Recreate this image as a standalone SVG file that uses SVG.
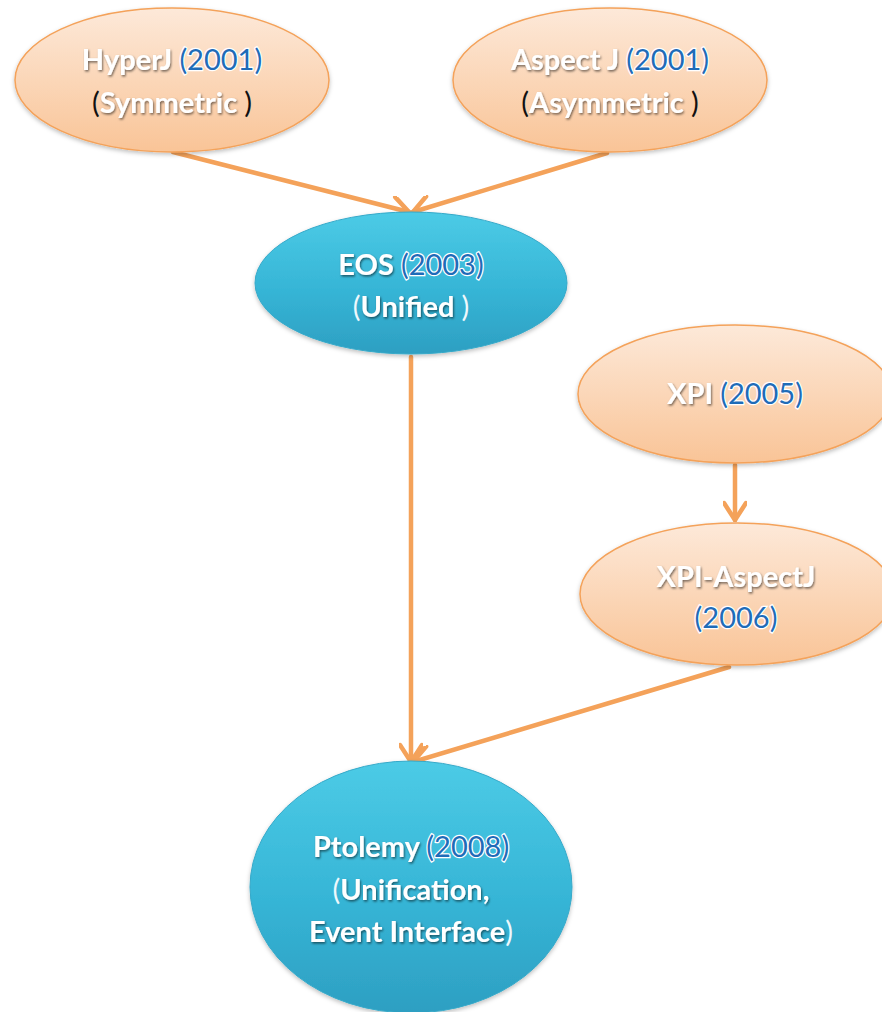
<svg xmlns="http://www.w3.org/2000/svg" width="882" height="1012" viewBox="0 0 882 1012">
<defs>
<linearGradient id="gOr" x1="0" y1="0" x2="0" y2="1">
<stop offset="0" stop-color="#fde9d9"/>
<stop offset="1" stop-color="#f9c497"/>
</linearGradient>
<linearGradient id="gBl" x1="0" y1="0" x2="0" y2="1">
<stop offset="0" stop-color="#4ccbe6"/>
<stop offset="0.55" stop-color="#36b5d6"/>
<stop offset="1" stop-color="#2d9fc2"/>
</linearGradient>
<filter id="sh" x="-10%" y="-20%" width="120%" height="140%">
<feDropShadow dx="1" dy="1.5" stdDeviation="1.2" flood-color="#000" flood-opacity="0.55"/>
</filter>
<filter id="nsh" x="-10%" y="-10%" width="120%" height="125%">
<feDropShadow dx="0" dy="2" stdDeviation="2" flood-color="#000" flood-opacity="0.25"/>
</filter>
<marker id="ah" markerUnits="userSpaceOnUse" viewBox="0 0 24 24" refX="22" refY="12" markerWidth="24" markerHeight="24" orient="auto">
<path d="M5,1 L22,12 L5,23" fill="none" stroke="#f4a25a" stroke-width="4.5" stroke-linecap="round" stroke-linejoin="round"/>
</marker>
</defs>
<style>
.or{fill:url(#gOr);stroke:#f4a25a;stroke-width:1.5}
.bl{fill:url(#gBl);stroke:#35a9c9;stroke-width:1}
.t{font-family:Lato,"Liberation Sans",sans-serif;font-weight:bold;font-size:29px;text-anchor:middle;fill:#fff}
.w{fill:#fff;filter:url(#sh)}
.y{fill:#1f6cb8;stroke:#fff;stroke-width:2.5;paint-order:stroke;font-weight:normal}
.k{fill:#111;font-weight:normal}
.p{fill:#eef8fc;font-weight:normal}
.c{fill:none;stroke:#f4a25a;stroke-width:4.5;stroke-linecap:round}
</style>
<g id="connectors">
<line class="c" x1="173" y1="152" x2="409" y2="212" marker-end="url(#ah)"/>
<line class="c" x1="607" y1="153" x2="413" y2="212" marker-end="url(#ah)"/>
<line class="c" x1="411" y1="357" x2="411" y2="762" marker-end="url(#ah)"/>
<line class="c" x1="735" y1="465" x2="735" y2="520" marker-end="url(#ah)"/>
<line class="c" x1="729" y1="667" x2="413" y2="762" marker-end="url(#ah)"/>
</g>
<g id="hyperj">
<ellipse class="or" cx="172" cy="80" rx="157" ry="72" filter="url(#nsh)"/>
<text class="t" x="172" y="70"><tspan class="w">HyperJ </tspan><tspan class="y">(2001)</tspan></text>
<text class="t" x="172" y="113"><tspan class="k">(</tspan><tspan class="w">Symmetric </tspan><tspan class="k">)</tspan></text>
</g>
<g id="aspectj">
<ellipse class="or" cx="610" cy="80" rx="157" ry="72" filter="url(#nsh)"/>
<text class="t" x="610" y="70"><tspan class="w">Aspect J </tspan><tspan class="y">(2001)</tspan></text>
<text class="t" x="610" y="113"><tspan class="k">(</tspan><tspan class="w">Asymmetric </tspan><tspan class="k">)</tspan></text>
</g>
<g id="eos">
<ellipse class="bl" cx="411" cy="283" rx="156" ry="71" filter="url(#nsh)"/>
<text class="t" x="411" y="275"><tspan class="w">EOS </tspan><tspan class="y">(2003)</tspan></text>
<text class="t" x="411" y="317"><tspan class="p">(</tspan><tspan class="w">Unified </tspan><tspan class="p">)</tspan></text>
</g>
<g id="xpi">
<ellipse class="or" cx="735" cy="394" rx="157" ry="69" filter="url(#nsh)"/>
<text class="t" x="735" y="404"><tspan class="w">XPI </tspan><tspan class="y">(2005)</tspan></text>
</g>
<g id="xpi-aspectj">
<ellipse class="or" cx="737" cy="594" rx="157" ry="71" filter="url(#nsh)"/>
<text class="t" x="736" y="587"><tspan class="w">XPI-AspectJ</tspan></text>
<text class="t" x="736" y="628"><tspan class="y">(2006)</tspan></text>
</g>
<g id="ptolemy">
<ellipse class="bl" cx="411" cy="887" rx="161" ry="126" filter="url(#nsh)"/>
<text class="t" x="411" y="857"><tspan class="w">Ptolemy </tspan><tspan class="y">(2008)</tspan></text>
<text class="t" x="411" y="900"><tspan class="p">(</tspan><tspan class="w">Unification,</tspan></text>
<text class="t" x="411" y="942"><tspan class="w">Event Interface</tspan><tspan class="p">)</tspan></text>
</g>
</svg>
